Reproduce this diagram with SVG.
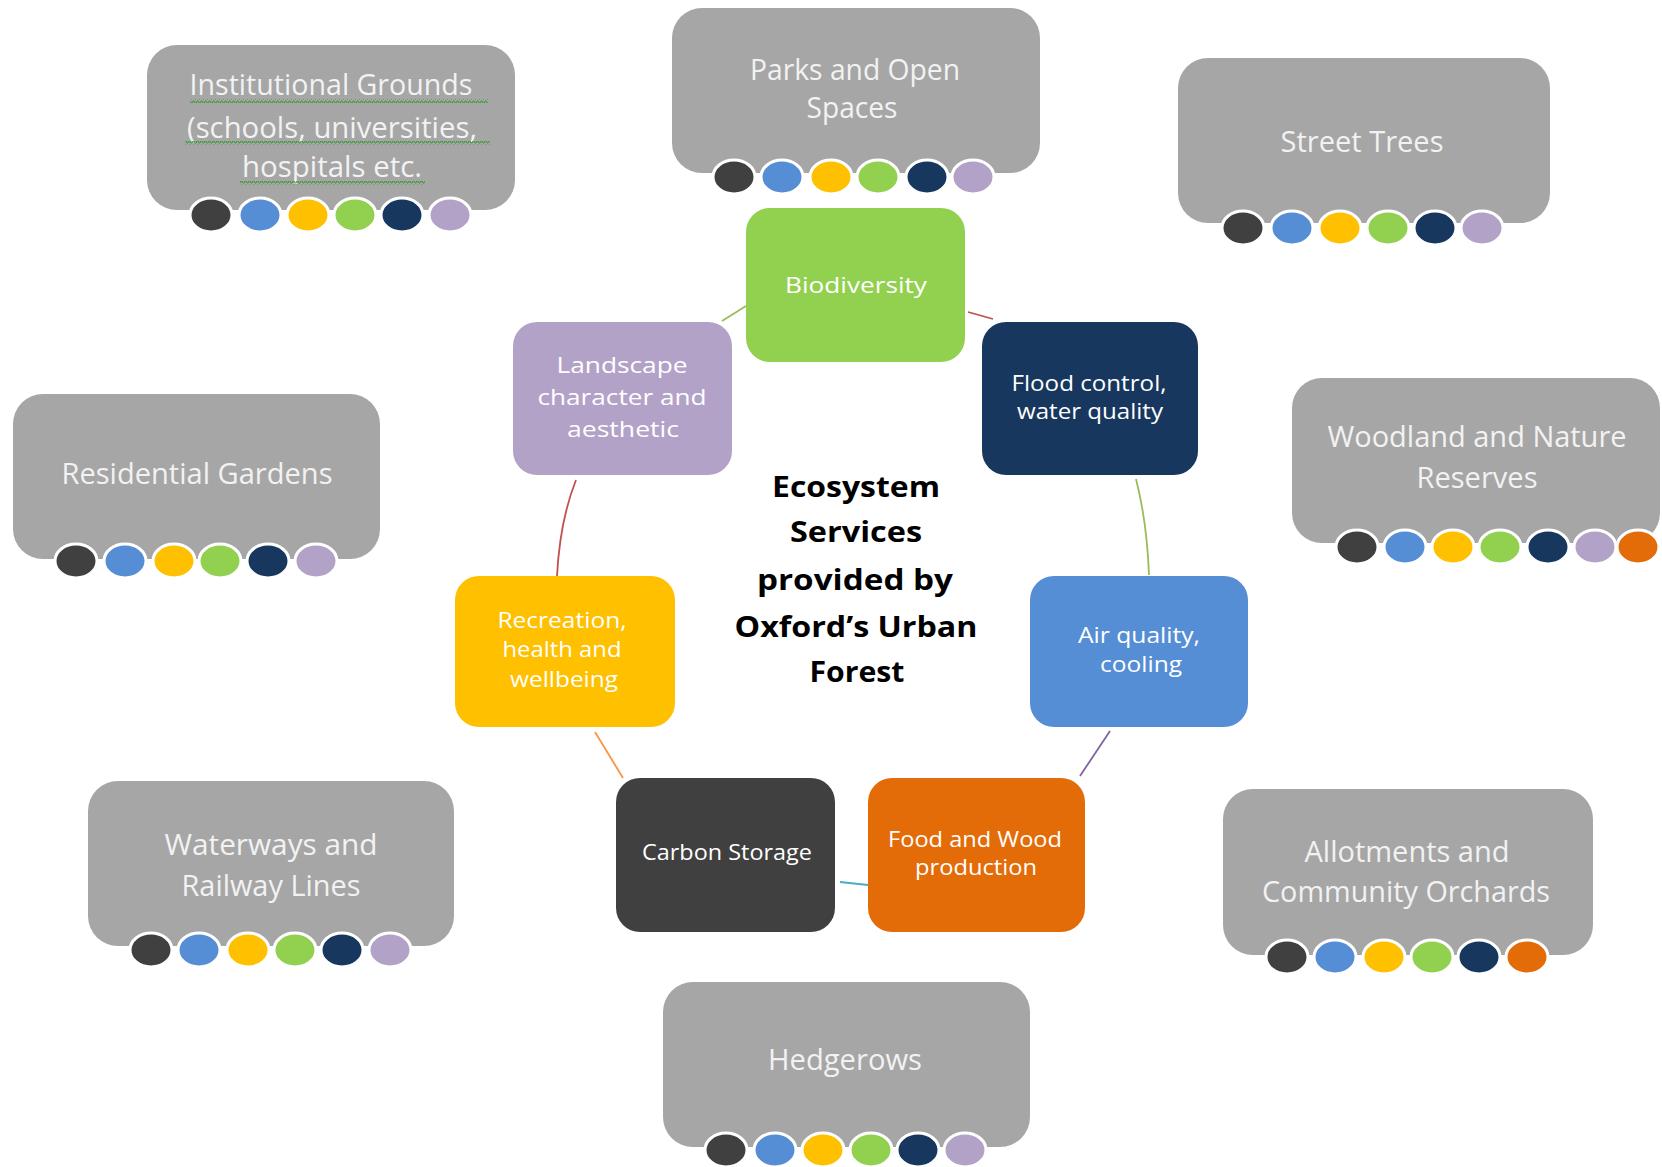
<svg xmlns="http://www.w3.org/2000/svg" width="1662" height="1167" viewBox="0 0 1662 1167">
<defs>
<style>
.area{fill:#A6A6A6}
.at{font-family:"Open Sans","Liberation Sans",sans-serif;font-size:29px;fill:#F2F2F2;text-anchor:middle}
.svc{font-family:"Open Sans","Liberation Sans",sans-serif;font-size:21px;fill:#FFFFFF;text-anchor:middle}
.title{font-family:"Open Sans","Liberation Sans",sans-serif;font-size:28px;font-weight:bold;fill:#000000;text-anchor:middle}
.dot{stroke:#FFFFFF;stroke-width:3}
.c1{fill:#404040}.c2{fill:#558ED5}.c3{fill:#FFC000}.c4{fill:#92D050}.c5{fill:#17375E}.c6{fill:#B3A2C7}.c7{fill:#E36C09}
.conn{fill:none;stroke-width:1.8}
</style>
<pattern id="squig" width="4" height="4" patternUnits="userSpaceOnUse">
<polyline points="0,3 1,1 2,1 3,3 4,3" fill="none" stroke="#2E9A2E" stroke-width="1"/>
</pattern>
</defs>
<rect width="1662" height="1167" fill="#FFFFFF"/>

<g id="connectors">
<line class="conn" x1="722" y1="321" x2="746" y2="306" stroke="#9BBB59"/>
<line class="conn" x1="968" y1="312" x2="993" y2="319" stroke="#C0504D"/>
<path class="conn" d="M1136,479 Q1147,522 1149,575" stroke="#9BBB59"/>
<line class="conn" x1="1110" y1="731" x2="1080" y2="776" stroke="#8064A2"/>
<line class="conn" x1="840" y1="882" x2="868" y2="885" stroke="#4BACC6"/>
<line class="conn" x1="595" y1="732" x2="623" y2="778" stroke="#F79646"/>
<path class="conn" d="M576,480 Q560,520 557,576" stroke="#C0504D"/>
</g>

<g id="institutional">
<rect class="area" x="147" y="45" width="368" height="165" rx="30"/>
<text class="at"><tspan x="331" y="95" textLength="283" lengthAdjust="spacingAndGlyphs">Institutional Grounds</tspan><tspan x="332" y="138" textLength="290" lengthAdjust="spacingAndGlyphs">(schools, universities,</tspan><tspan x="332" y="177" textLength="180" lengthAdjust="spacingAndGlyphs">hospitals etc.</tspan></text>
<rect x="190" y="99" width="298" height="4" fill="url(#squig)"/>
<rect x="185" y="141" width="305" height="4" fill="url(#squig)"/>
<rect x="240" y="181" width="185" height="4" fill="url(#squig)"/>
<ellipse class="dot c1" cx="211" cy="215" rx="21" ry="17"/>
<ellipse class="dot c2" cx="260" cy="215" rx="21" ry="17"/>
<ellipse class="dot c3" cx="308" cy="215" rx="21" ry="17"/>
<ellipse class="dot c4" cx="355" cy="215" rx="21" ry="17"/>
<ellipse class="dot c5" cx="402" cy="215" rx="21" ry="17"/>
<ellipse class="dot c6" cx="450" cy="215" rx="21" ry="17"/>
</g>

<g id="parks">
<rect class="area" x="672" y="8" width="368" height="165" rx="30"/>
<text class="at"><tspan x="855" y="80" textLength="210" lengthAdjust="spacingAndGlyphs">Parks and Open</tspan><tspan x="852" y="118" textLength="91" lengthAdjust="spacingAndGlyphs">Spaces</tspan></text>
<ellipse class="dot c1" cx="734" cy="177" rx="21" ry="17"/>
<ellipse class="dot c2" cx="782" cy="177" rx="21" ry="17"/>
<ellipse class="dot c3" cx="831" cy="177" rx="21" ry="17"/>
<ellipse class="dot c4" cx="878" cy="177" rx="21" ry="17"/>
<ellipse class="dot c5" cx="927" cy="177" rx="21" ry="17"/>
<ellipse class="dot c6" cx="973" cy="177" rx="21" ry="17"/>
</g>

<g id="street-trees">
<rect class="area" x="1178" y="58" width="372" height="165" rx="30"/>
<text class="at" x="1362" y="152" textLength="163" lengthAdjust="spacingAndGlyphs">Street Trees</text>
<ellipse class="dot c1" cx="1243" cy="228" rx="21" ry="17"/>
<ellipse class="dot c2" cx="1292" cy="228" rx="21" ry="17"/>
<ellipse class="dot c3" cx="1340" cy="228" rx="21" ry="17"/>
<ellipse class="dot c4" cx="1388" cy="228" rx="21" ry="17"/>
<ellipse class="dot c5" cx="1435" cy="228" rx="21" ry="17"/>
<ellipse class="dot c6" cx="1482" cy="228" rx="21" ry="17"/>
</g>

<g id="woodland">
<rect class="area" x="1292" y="378" width="368" height="165" rx="30"/>
<text class="at"><tspan x="1477" y="447" textLength="299" lengthAdjust="spacingAndGlyphs">Woodland  and Nature</tspan><tspan x="1477" y="488" textLength="121" lengthAdjust="spacingAndGlyphs">Reserves</tspan></text>
<ellipse class="dot c1" cx="1357" cy="547" rx="21" ry="17"/>
<ellipse class="dot c2" cx="1405" cy="547" rx="21" ry="17"/>
<ellipse class="dot c3" cx="1453" cy="547" rx="21" ry="17"/>
<ellipse class="dot c4" cx="1500" cy="547" rx="21" ry="17"/>
<ellipse class="dot c5" cx="1548" cy="547" rx="21" ry="17"/>
<ellipse class="dot c6" cx="1595" cy="547" rx="21" ry="17"/>
<ellipse class="dot c7" cx="1638" cy="547" rx="21" ry="17"/>
</g>

<g id="residential">
<rect class="area" x="13" y="394" width="367" height="165" rx="30"/>
<text class="at" x="197" y="484" textLength="271" lengthAdjust="spacingAndGlyphs">Residential Gardens</text>
<ellipse class="dot c1" cx="76" cy="561" rx="21" ry="17"/>
<ellipse class="dot c2" cx="125" cy="561" rx="21" ry="17"/>
<ellipse class="dot c3" cx="174" cy="561" rx="21" ry="17"/>
<ellipse class="dot c4" cx="220" cy="561" rx="21" ry="17"/>
<ellipse class="dot c5" cx="268" cy="561" rx="21" ry="17"/>
<ellipse class="dot c6" cx="316" cy="561" rx="21" ry="17"/>
</g>

<g id="waterways">
<rect class="area" x="88" y="781" width="366" height="165" rx="30"/>
<text class="at"><tspan x="271" y="855" textLength="213" lengthAdjust="spacingAndGlyphs">Waterways and</tspan><tspan x="271" y="896" textLength="179" lengthAdjust="spacingAndGlyphs">Railway Lines</tspan></text>
<ellipse class="dot c1" cx="151" cy="950" rx="21" ry="17"/>
<ellipse class="dot c2" cx="199" cy="950" rx="21" ry="17"/>
<ellipse class="dot c3" cx="248" cy="950" rx="21" ry="17"/>
<ellipse class="dot c4" cx="295" cy="950" rx="21" ry="17"/>
<ellipse class="dot c5" cx="342" cy="950" rx="21" ry="17"/>
<ellipse class="dot c6" cx="390" cy="950" rx="21" ry="17"/>
</g>

<g id="allotments">
<rect class="area" x="1223" y="789" width="370" height="166" rx="30"/>
<text class="at"><tspan x="1407" y="862" textLength="205" lengthAdjust="spacingAndGlyphs">Allotments and</tspan><tspan x="1406" y="902" textLength="288" lengthAdjust="spacingAndGlyphs">Community Orchards</tspan></text>
<ellipse class="dot c1" cx="1287" cy="957" rx="21" ry="17"/>
<ellipse class="dot c2" cx="1335" cy="957" rx="21" ry="17"/>
<ellipse class="dot c3" cx="1384" cy="957" rx="21" ry="17"/>
<ellipse class="dot c4" cx="1432" cy="957" rx="21" ry="17"/>
<ellipse class="dot c5" cx="1479" cy="957" rx="21" ry="17"/>
<ellipse class="dot c7" cx="1527" cy="957" rx="21" ry="17"/>
</g>

<g id="hedgerows">
<rect class="area" x="663" y="982" width="367" height="165" rx="30"/>
<text class="at" x="845" y="1070" textLength="154" lengthAdjust="spacingAndGlyphs">Hedgerows</text>
<ellipse class="dot c1" cx="726" cy="1150" rx="21" ry="17"/>
<ellipse class="dot c2" cx="775" cy="1150" rx="21" ry="17"/>
<ellipse class="dot c3" cx="823" cy="1150" rx="21" ry="17"/>
<ellipse class="dot c4" cx="871" cy="1150" rx="21" ry="17"/>
<ellipse class="dot c5" cx="918" cy="1150" rx="21" ry="17"/>
<ellipse class="dot c6" cx="965" cy="1150" rx="21" ry="17"/>
</g>

<g id="biodiversity">
<rect class="c4" x="746" y="208" width="219" height="154" rx="24"/>
<text class="svc" x="856" y="293" font-size="24" textLength="142" lengthAdjust="spacingAndGlyphs">Biodiversity</text>
</g>

<g id="flood">
<rect class="c5" x="982" y="322" width="216" height="153" rx="24"/>
<text class="svc" font-size="20"><tspan x="1089" y="391" textLength="155" lengthAdjust="spacingAndGlyphs">Flood control,</tspan><tspan x="1090" y="419" textLength="146" lengthAdjust="spacingAndGlyphs">water quality</tspan></text>
</g>

<g id="landscape">
<rect class="c6" x="513" y="322" width="219" height="153" rx="24"/>
<text class="svc" font-size="23"><tspan x="622" y="373" textLength="131" lengthAdjust="spacingAndGlyphs">Landscape</tspan><tspan x="622" y="405" textLength="169" lengthAdjust="spacingAndGlyphs">character and</tspan><tspan x="623" y="437" textLength="112" lengthAdjust="spacingAndGlyphs">aesthetic</tspan></text>
</g>

<g id="recreation">
<rect class="c3" x="455" y="576" width="220" height="151" rx="24"/>
<text class="svc"><tspan x="562" y="628" textLength="129" lengthAdjust="spacingAndGlyphs">Recreation,</tspan><tspan x="562" y="657" textLength="119" lengthAdjust="spacingAndGlyphs">health and</tspan><tspan x="564" y="687" textLength="108" lengthAdjust="spacingAndGlyphs">wellbeing</tspan></text>
</g>

<g id="air">
<rect class="c2" x="1030" y="576" width="218" height="151" rx="24"/>
<text class="svc"><tspan x="1139" y="643" textLength="122" lengthAdjust="spacingAndGlyphs">Air quality,</tspan><tspan x="1141" y="672" textLength="82" lengthAdjust="spacingAndGlyphs">cooling</tspan></text>
</g>

<g id="carbon">
<rect class="c1" x="616" y="778" width="219" height="154" rx="24"/>
<text class="svc" x="727" y="860" font-size="22" textLength="170" lengthAdjust="spacingAndGlyphs">Carbon Storage</text>
</g>

<g id="food">
<rect class="c7" x="868" y="778" width="217" height="154" rx="24"/>
<text class="svc" font-size="20"><tspan x="975" y="847" textLength="174" lengthAdjust="spacingAndGlyphs">Food and Wood</tspan><tspan x="976" y="875" textLength="122" lengthAdjust="spacingAndGlyphs">production</tspan></text>
</g>

<g id="title">
<text class="title"><tspan x="856" y="497" textLength="168" lengthAdjust="spacingAndGlyphs">Ecosystem</tspan><tspan x="856" y="542" textLength="132" lengthAdjust="spacingAndGlyphs">Services</tspan><tspan x="855" y="590" textLength="196" lengthAdjust="spacingAndGlyphs">provided by</tspan><tspan x="856" y="637" textLength="243" lengthAdjust="spacingAndGlyphs">Oxford’s Urban</tspan><tspan x="857" y="682" textLength="95" lengthAdjust="spacingAndGlyphs">Forest</tspan></text>
</g>
</svg>
